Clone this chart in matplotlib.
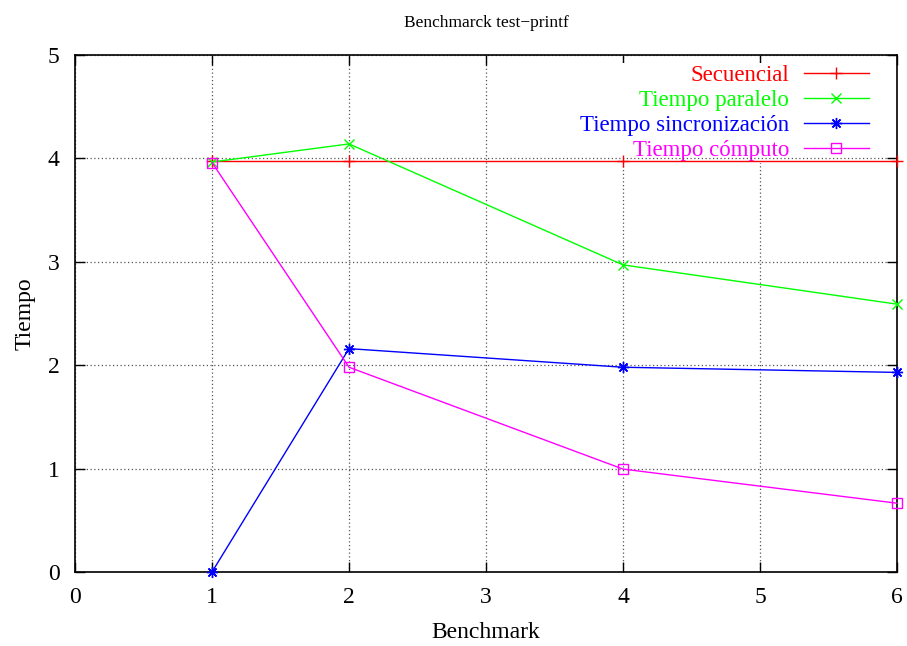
import matplotlib
matplotlib.use('Agg')
import matplotlib.pyplot as plt

plt.rcParams['font.family'] = ['Liberation Serif', 'DejaVu Serif']

# Datos del benchmark test-printf
benchmarks = [1, 2, 4, 6]
secuencial = [3.97, 3.97, 3.97, 3.97]
paralelo = [3.965, 4.14, 2.97, 2.59]
sincronizacion = [0.0, 2.16, 1.98, 1.93]
computo = [3.96, 1.98, 0.995, 0.665]

etiquetas = ['Secuencial', 'Tiempo paralelo', 'Tiempo sincronización', 'Tiempo cómputo']
colores = ['#ff0000', '#00ff00', '#0000ff', '#ff00ff']


def main():
    fig = plt.figure(figsize=(9.07, 6.46), dpi=100)
    ax = fig.add_axes([0.0827, 0.1146, 0.9063, 0.8003])

    series = [secuencial, paralelo, sincronizacion, computo]
    marcadores = ['+', 'x', (8, 2, 0), 's']
    tamanos = [8, 7, 8, 7]
    for valores, etiqueta, color, marcador, tam in zip(series, etiquetas, colores,
                                                      marcadores, tamanos):
        ax.plot(benchmarks, valores, color=color, lw=1.0, marker=marcador,
                markersize=tam, markeredgewidth=1.0, fillstyle='none',
                label=etiqueta, clip_on=False, zorder=3)

    ax.set_xlim(0, 6)
    ax.set_ylim(0, 5)
    ax.set_xticks(range(0, 7))
    ax.set_yticks(range(0, 6))
    ax.tick_params(direction='in', length=7, width=1.0, top=True, right=True,
                   labelsize=17, pad=11)
    ax.grid(True, linestyle=(0, (1, 2)), color='#555555', lw=0.9)
    for sp in ax.spines.values():
        sp.set_linewidth(1.2)

    ax.set_title('Benchmarck test\u2212printf', fontsize=12.5, pad=20)
    ax.set_xlabel('Benchmark', fontsize=17, labelpad=10)
    ax.set_ylabel('Tiempo', fontsize=17, labelpad=9)

    # leyenda con fondo blanco: tapa la rejilla vertical, la horizontal queda encima
    leg = ax.legend(loc='upper right', bbox_to_anchor=(0.978, 1.0), markerfirst=False,
                    frameon=True, fancybox=False, framealpha=1.0, fontsize=16.5,
                    handlelength=2.85, labelspacing=0.17, handletextpad=0.65,
                    borderaxespad=0.35, borderpad=0.08, labelcolor='linecolor')
    leg.get_frame().set_facecolor('white')
    leg.get_frame().set_edgecolor('none')
    leg.set_zorder(2)
    ax.yaxis.set_zorder(2.2)

    fig.savefig('out.png', dpi=100)


if __name__ == '__main__':
    main()
